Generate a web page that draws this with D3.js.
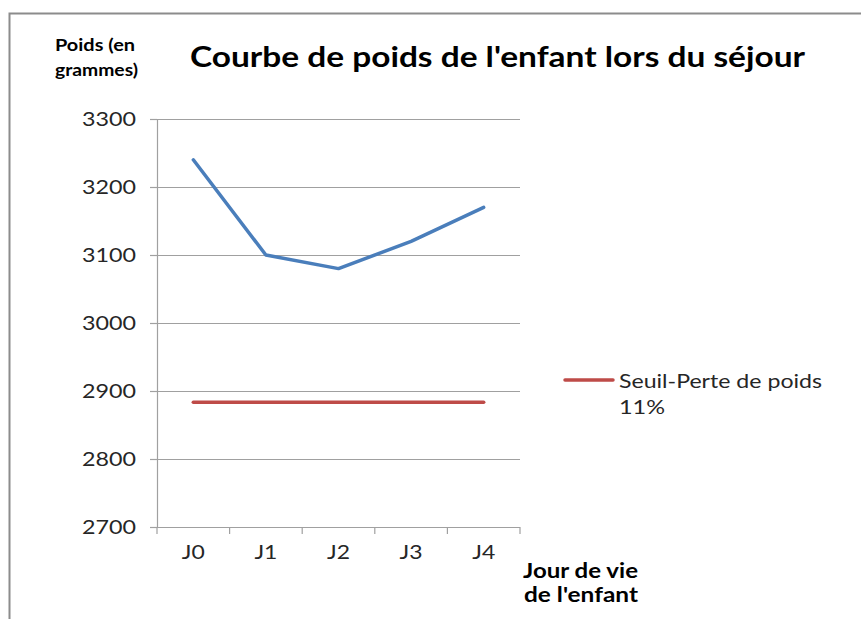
<!DOCTYPE html>
<meta charset="utf-8">
<script src="https://cdn.jsdelivr.net/npm/d3@7"></script>
<style>
  body { margin: 0; background: #fff; }
  text { font-family: Lato, "Open Sans", sans-serif; }
</style>
<body>
<div id="chart"></div>
<script>
  // data
  var days = ["J0", "J1", "J2", "J3", "J4"]
  var poids = [3240, 3100, 3080, 3120, 3170]
  var seuil = [2883.6, 2883.6, 2883.6, 2883.6, 2883.6]
  var yTicks = [2700, 2800, 2900, 3000, 3100, 3200, 3300]

  var W = 861, H = 619
  var margin = {top : 119, left : 157}
  var width = 363
  var height = 408

  var svg = d3.select("#chart").append("svg")
              .attr("width", W).attr("height", H)

  // outer frame (only top and left visible)
  svg.append("path")
     .attr("d", "M9.5," + H + "V13.5H" + W)
     .attr("fill", "none")
     .attr("stroke", "#8c8c8c")
     .attr("stroke-width", 2)

  var g = svg.append("g")
             .attr("transform", "translate(" + margin.left + "," + margin.top + ")")

  var xScale = d3.scaleBand().domain(days).range([0, width])
  var yScale = d3.scaleLinear().domain([2700, 3300]).range([height, 0])

  // gridlines
  g.selectAll(".grid")
   .data(yTicks.slice(1))
   .enter().append("line")
   .attr("x1", 0).attr("x2", width)
   .attr("y1", function(d) { return yScale(d) + 0.5 })
   .attr("y2", function(d) { return yScale(d) + 0.5 })
   .attr("stroke", "#a0a0a0")
   .attr("stroke-width", 1.2)

  // y axis
  var yAxis = g.append("g")
     .call(d3.axisLeft(yScale).tickValues(yTicks).tickSize(7).tickPadding(14).tickFormat(d3.format("d")))
  yAxis.select(".domain").attr("stroke", "#a0a0a0").attr("stroke-width", 1.2).attr("d", "M-7,0.5H0.5V" + (height + 0.5))
  yAxis.selectAll(".tick line").attr("stroke", "#a0a0a0").attr("stroke-width", 1.2)
  yAxis.selectAll(".tick text").style("font-size", "20px").attr("fill", "#262626")
       .attr("textLength", 54).attr("lengthAdjust", "spacingAndGlyphs")

  // x axis
  var xAxis = g.append("g")
     .attr("transform", "translate(0," + height + ")")
     .call(d3.axisBottom(xScale).tickSize(0).tickPadding(19))
  xAxis.select(".domain").attr("stroke", "#a0a0a0").attr("stroke-width", 1.2).attr("d", "M0,0.5H" + width)
  xAxis.selectAll(".tick text").style("font-size", "19px").attr("fill", "#262626")
       .attr("textLength", 23).attr("lengthAdjust", "spacingAndGlyphs")
  g.append("g").selectAll("line")
   .data(d3.range(days.length + 1))
   .enter().append("line")
   .attr("x1", function(i) { return i * xScale.step() })
   .attr("x2", function(i) { return i * xScale.step() })
   .attr("y1", height).attr("y2", height + 7)
   .attr("stroke", "#a0a0a0").attr("stroke-width", 1.2)

  var line = d3.line()
    .x(function(d, i) { return xScale(days[i]) + xScale.bandwidth() / 2 })
    .y(function(d) { return yScale(d) })

  g.append("path").datum(poids)
   .attr("d", line).attr("fill", "none")
   .attr("stroke", "#4a7ebb").attr("stroke-width", 3.5)
   .attr("stroke-linecap", "round").attr("stroke-linejoin", "round")

  g.append("path").datum(seuil)
   .attr("d", line).attr("fill", "none")
   .attr("stroke", "#be4b48").attr("stroke-width", 3.5)
   .attr("stroke-linecap", "round")

  // titles
  function label(x, y, size, bold, len, txt, anchor) {
    svg.append("text")
       .attr("x", x).attr("y", y)
       .attr("text-anchor", anchor || "start")
       .attr("textLength", len).attr("lengthAdjust", "spacingAndGlyphs")
       .style("font-size", size + "px").style("font-weight", bold ? 700 : 400)
       .attr("fill", bold ? "#000" : "#262626")
       .text(txt)
  }

  label(190, 67, 29, true, 615, "Courbe de poids de l'enfant lors du séjour")
  label(55, 51, 17, true, 80, "Poids (en")
  label(55, 76, 17, true, 83, "grammes)")
  label(523, 578, 20, true, 115, "Jour de vie")
  label(524, 602, 20, true, 114, "de l'enfant")

  // legend
  svg.append("line")
     .attr("x1", 565).attr("x2", 613).attr("y1", 380).attr("y2", 380)
     .attr("stroke", "#be4b48").attr("stroke-width", 3.5)
     .attr("stroke-linecap", "round")
  label(619, 388, 20, false, 203, "Seuil-Perte de poids")
  label(619, 414, 20, false, 46, "11%")
</script>
</body>
